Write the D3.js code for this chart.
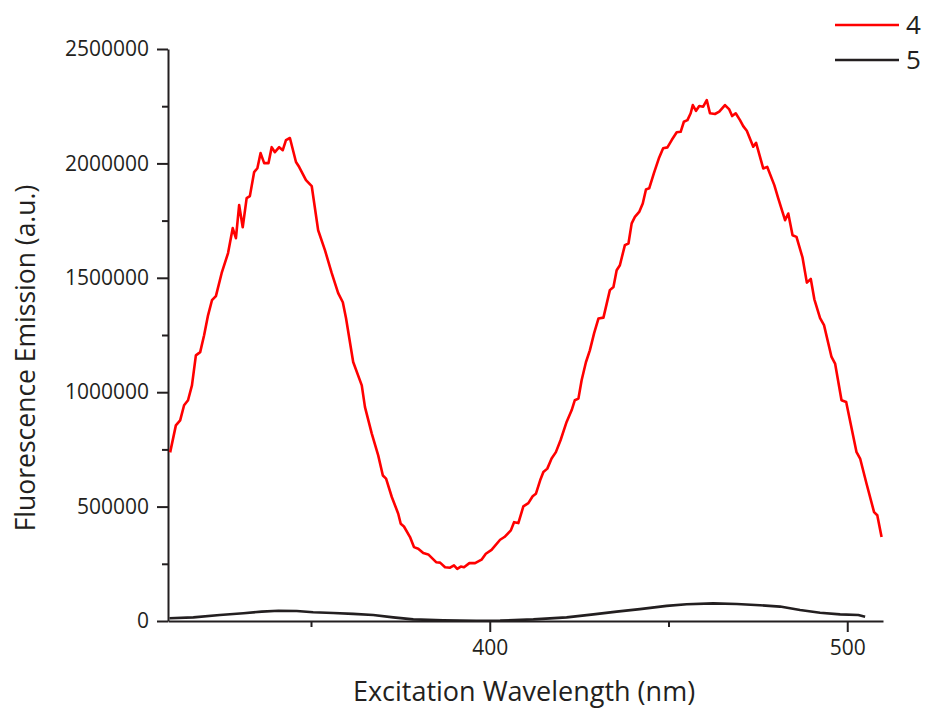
<html>
<head>
<style>
  body { margin: 0; background: #fff; }
  svg text { font-family: "Open Sans", "Noto Sans", sans-serif; fill: #231f20; }
  .axis path, .axis line { stroke: #231f20; stroke-width: 2; }
</style>
</head>
<body>
<svg width="926" height="712"></svg>
<script src="https://d3js.org/d3.v7.min.js"></script>
<script>
// series 4 (red): excitation wavelength (nm) and emission (a.u.)
var wl4 = [310.6, 312.2, 313.4, 314.5, 315.6, 316.7, 317.8, 319.0, 320.1, 321.2,
  322.3, 323.4, 325.0, 326.8, 328.1, 329.0, 329.9, 330.9, 332.0, 332.9,
  334.1, 335.0, 335.9, 336.9, 338.1, 339.0, 339.9, 341.1, 342.1, 343.0,
  344.1, 345.8, 346.7, 348.6, 350.2, 352.0, 353.9, 355.8, 357.6, 358.9,
  359.8, 361.8, 364.2, 365.1, 367.0, 368.8, 370.1, 371.0, 372.6, 374.4,
  375.1, 376.0, 377.7, 378.8, 380.0, 381.4, 382.8, 385.0, 386.1, 387.5,
  388.9, 390.0, 390.9, 391.9, 392.8, 394.3, 395.9, 397.7, 398.9, 400.5,
  402.9, 404.1, 405.9, 406.8, 408.0, 409.4, 410.8, 412.0, 412.9, 414.1,
  415.0, 416.1, 417.3, 418.5, 419.8, 421.5, 422.9, 423.8, 424.8, 425.7,
  426.9, 428.0, 429.2, 430.4, 431.8, 433.6, 434.6, 435.5, 436.4, 437.8,
  438.8, 439.7, 440.6, 441.8, 442.8, 443.7, 444.6, 445.9, 447.4, 448.5,
  449.7, 450.9, 452.3, 453.4, 454.3, 455.3, 456.2, 456.8, 457.7, 458.6,
  459.7, 460.7, 461.6, 463.0, 464.2, 465.8, 467.0, 467.8, 468.8, 470.0,
  470.9, 471.9, 473.7, 474.5, 476.5, 477.6, 479.6, 480.7, 482.6, 483.5,
  484.7, 485.8, 487.5, 488.7, 489.8, 490.8, 492.4, 493.5, 495.6, 496.6,
  498.4, 499.7, 502.6, 503.6, 505.4, 507.5, 508.4, 509.6];
var em4 = [737000, 855000, 877000, 943000, 965000, 1030000, 1161000, 1175000, 1249000, 1336000,
  1402000, 1420000, 1520000, 1608000, 1717000, 1673000, 1818000, 1721000, 1848000, 1857000,
  1962000, 1979000, 2045000, 2001000, 2001000, 2071000, 2049000, 2071000, 2058000, 2102000,
  2111000, 2006000, 1984000, 1927000, 1901000, 1708000, 1621000, 1520000, 1433000, 1393000,
  1323000, 1132000, 1030000, 935000, 819000, 724000, 636000, 622000, 542000, 469000,
  425000, 413000, 367000, 323000, 316000, 297000, 291000, 257000, 255000, 235000,
  233000, 243000, 228000, 238000, 235000, 253000, 253000, 268000, 294000, 311000,
  355000, 367000, 396000, 432000, 428000, 501000, 515000, 545000, 556000, 615000,
  651000, 666000, 710000, 738000, 790000, 870000, 921000, 965000, 972000, 1052000,
  1131000, 1183000, 1258000, 1322000, 1326000, 1446000, 1460000, 1533000, 1555000, 1643000,
  1650000, 1738000, 1766000, 1788000, 1825000, 1886000, 1891000, 1956000, 2026000, 2066000,
  2070000, 2102000, 2136000, 2138000, 2182000, 2189000, 2219000, 2255000, 2230000, 2251000,
  2248000, 2277000, 2219000, 2216000, 2226000, 2255000, 2236000, 2207000, 2219000, 2189000,
  2163000, 2143000, 2073000, 2090000, 1978000, 1985000, 1905000, 1847000, 1752000, 1781000,
  1686000, 1679000, 1588000, 1479000, 1495000, 1406000, 1324000, 1293000, 1154000, 1125000,
  965000, 957000, 738000, 710000, 600000, 476000, 462000, 367000];

// series 5 (black)
var wl5 = [310.4, 317.1, 324.5, 331.1, 336.2, 340.9, 346.0, 350.6, 356.2, 361.8,
  367.4, 373.0, 378.6, 387.0, 396.3, 402.9, 412.2, 421.5, 429.0, 435.5,
  442.0, 449.5, 455.1, 462.5, 469.1, 475.6, 481.2, 486.8, 492.4, 498.0,
  503.1, 505.0];
var em5 = [12000, 16000, 26000, 34000, 41000, 45000, 44000, 38000, 35000, 31000,
  26000, 16000, 7000, 3000, 1000, 2000, 7000, 16000, 29000, 41000,
  52000, 66000, 73000, 77000, 74000, 69000, 63000, 48000, 36000, 29000,
  26000, 19000];

var seriesNames = ["4", "5"];
var seriesColors = ["#ff0000", "#231f20"];

var yMajor = [0, 500000, 1000000, 1500000, 2000000, 2500000];
var yMinor = [250000, 750000, 1250000, 1750000, 2250000];
var xMajor = [400, 500];
var xMinor = [350, 450];

var margin = { top: 49, right: 43, bottom: 91, left: 168 };
var width = 926 - margin.left - margin.right;
var height = 712 - margin.top - margin.bottom;

var svg = d3.select("svg");
var g = svg.append("g")
  .attr("transform", "translate(" + margin.left + "," + margin.top + ")");

var x = d3.scaleLinear().domain([310, 510]).range([0, width]);
var y = d3.scaleLinear().domain([0, 2500000]).range([height, 0]);

// minor ticks first, then major axes on top
g.append("g").attr("class", "axis")
  .attr("transform", "translate(0," + height + ")")
  .call(d3.axisBottom(x).tickValues(xMinor).tickSize(6).tickFormat(""))
  .select(".domain").remove();
g.append("g").attr("class", "axis")
  .call(d3.axisLeft(y).tickValues(yMinor).tickSize(6).tickFormat(""))
  .select(".domain").remove();

var xAxis = g.append("g").attr("class", "axis")
  .attr("transform", "translate(0," + height + ")")
  .call(d3.axisBottom(x).tickValues(xMajor).tickSize(11).tickSizeOuter(0).tickPadding(8));
xAxis.selectAll("text").attr("font-size", 21);

var yAxis = g.append("g").attr("class", "axis")
  .call(d3.axisLeft(y).tickValues(yMajor).tickSize(11).tickSizeOuter(0).tickPadding(8)
    .tickFormat(d3.format("d")));
yAxis.selectAll("text").attr("font-size", 21);

var line = d3.line()
  .x(function(d) { return x(d[0]); })
  .y(function(d) { return y(d[1]); });

var lines = [d3.zip(wl4, em4), d3.zip(wl5, em5)];
g.selectAll(".series").data(lines).enter().append("path")
  .attr("class", "series")
  .attr("d", line)
  .attr("fill", "none")
  .attr("stroke", function(d, i) { return seriesColors[i]; })
  .attr("stroke-width", 2.6)
  .attr("stroke-linejoin", "round");

// axis titles
svg.append("text")
  .attr("x", 524)
  .attr("y", 701)
  .attr("text-anchor", "middle")
  .attr("font-size", 27)
  .text("Excitation Wavelength (nm)");

svg.append("text")
  .attr("transform", "translate(35,358) rotate(-90)")
  .attr("text-anchor", "middle")
  .attr("font-size", 26.5)
  .text("Fluorescence Emission (a.u.)");

// legend
var legend = svg.append("g").attr("transform", "translate(835,25)");
var item = legend.selectAll("g").data(seriesNames).enter().append("g")
  .attr("transform", function(d, i) { return "translate(0," + (i * 35) + ")"; });
item.append("line")
  .attr("x1", 0).attr("x2", 64)
  .attr("stroke", function(d, i) { return seriesColors[i]; })
  .attr("stroke-width", 2.6);
item.append("text")
  .attr("x", 71).attr("dy", "0.36em")
  .attr("font-size", 26)
  .text(function(d) { return d; });
</script>
</body>
</html>
